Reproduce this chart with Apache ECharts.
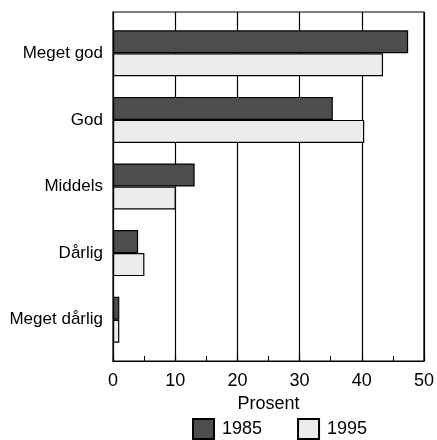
<!DOCTYPE html>
<html>
<head>
<meta charset="utf-8">
<script src="https://cdn.jsdelivr.net/npm/echarts@6/dist/echarts.min.js"></script>
<style>
  html, body { margin: 0; padding: 0; background: #fff; }
  #chart { width: 437px; height: 440px; }
</style>
</head>
<body>
<div id="chart"></div>
<script>
// kategorier og verdier (prosent)
var categories = ['Meget god', 'God', 'Middels', 'Dårlig', 'Meget dårlig']
var values1985 = [47, 35, 13, 4, 1]
var values1995 = [43, 40, 10, 5, 1]
var xTicks = [0, 10, 20, 30, 40, 50]

var chart = echarts.init(document.getElementById('chart'))
var font = 'Liberation Sans, Arial, sans-serif'
var black = { color: '#000', width: 1.2 }

chart.setOption({
  animation: false,
  // grid 0: ramme + x-akse, grid 1: stolpene (litt luft over og under)
  grid: [
    { left: 113, right: 10, top: 12, bottom: 79, show: true, borderColor: '#000', borderWidth: 1.2 },
    { left: 113, right: 10, top: 20, bottom: 87 }
  ],
  legend: {
    left: 187,
    top: 413,
    padding: 5,
    itemWidth: 21,
    itemHeight: 20,
    itemGap: 35,
    icon: 'rect',
    textStyle: { fontFamily: font, fontSize: 18, color: '#000', padding: [0, 0, 0, 3] },
    data: ['1985', '1995']
  },
  xAxis: [
    {
      gridIndex: 0,
      type: 'value',
      min: xTicks[0],
      max: xTicks[xTicks.length - 1],
      interval: 10,
      name: 'Prosent',
      nameLocation: 'middle',
      nameGap: 32,
      nameTextStyle: { fontFamily: font, fontSize: 18, color: '#000' },
      axisLine: { show: true, lineStyle: black },
      axisTick: { show: true, inside: true, length: 5, lineStyle: black },
      minorTick: { show: true, splitNumber: 2, length: 5, lineStyle: { color: '#000' } },
      axisLabel: { fontFamily: font, fontSize: 18, color: '#000', margin: 11 },
      splitLine: { show: true, lineStyle: black }
    },
    {
      gridIndex: 1,
      type: 'value',
      min: xTicks[0],
      max: xTicks[xTicks.length - 1],
      show: false
    }
  ],
  yAxis: [
    {
      gridIndex: 0,
      type: 'value',
      show: false
    },
    {
      gridIndex: 1,
      type: 'category',
      inverse: true,
      data: categories,
      axisLine: { show: false },
      axisTick: { show: false },
      axisLabel: { fontFamily: font, fontSize: 17, color: '#000', margin: 10 }
    }
  ],
  series: [
    {
      name: '1985',
      type: 'bar',
      xAxisIndex: 1,
      yAxisIndex: 1,
      data: values1985,
      barWidth: 23,
      barGap: '0%',
      itemStyle: { color: '#4d4d4d', borderColor: '#000', borderWidth: 1.2 }
    },
    {
      name: '1995',
      type: 'bar',
      xAxisIndex: 1,
      yAxisIndex: 1,
      data: values1995,
      barWidth: 23,
      itemStyle: { color: '#ececec', borderColor: '#000', borderWidth: 1.2 }
    }
  ]
})
</script>
</body>
</html>
